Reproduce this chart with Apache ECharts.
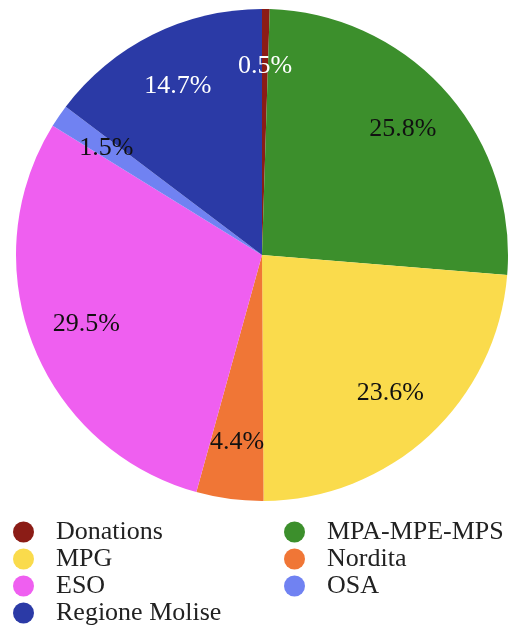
<!DOCTYPE html>
<html lang="en">
<head>
    <meta charset="UTF-8">
    <title>Funding</title>
    <script src="https://cdn.jsdelivr.net/npm/echarts@6/dist/echarts.min.js"></script>
    <style>
        html, body { margin: 0; padding: 0; background: #fff; }
    </style>
</head>
<body>
    <div id="main" style="width: 511px;height:629px;"></div>
    <script>
        // slices, clockwise from 12 o'clock
        var names = ['Donations', 'MPA-MPE-MPS', 'MPG', 'Nordita', 'ESO', 'OSA', 'Regione Molise'];
        var shares = [0.5, 25.8, 23.6, 4.4, 29.5, 1.5, 14.7];
        var colors = ['#8b1c16', '#3c8f2c', '#fadb4c', '#f07636', '#ef5ff0', '#7082f2', '#2b3aa6'];
        var labelColors = ['#fff', '#111', '#111', '#111', '#111', '#111', '#fff'];
        var leftLegend = ['Donations', 'MPG', 'ESO', 'Regione Molise'];
        var rightLegend = ['MPA-MPE-MPS', 'Nordita', 'OSA'];

        var font = 'Liberation Serif';
        var cx = 262, cy = 255, r = 246;

        var pieData = names.map(function (n, i) {
            return { name: n, value: shares[i], itemStyle: { color: colors[i] } };
        });
        var labelData = names.map(function (n, i) {
            return {
                name: n, value: shares[i],
                label: { color: labelColors[i] }
            };
        });

        function legend(list, left) {
            return {
                data: list,
                orient: 'vertical',
                left: left,
                top: 519,
                height: 200,
                padding: 0,
                icon: 'circle',
                itemWidth: 21,
                itemHeight: 21,
                itemGap: 1,
                selectedMode: false,
                textStyle: { fontFamily: font, fontSize: 26, lineHeight: 25, color: '#222', padding: [0, 0, 0, 17] }
            };
        }

        var myChart = echarts.init(document.getElementById('main'));
        myChart.setOption({
            animation: false,
            color: colors,
            legend: [legend(leftLegend, 13), legend(rightLegend, 284)],
            series: [{
                type: 'pie',
                center: [cx, cy],
                radius: [0, r],
                startAngle: 90,
                clockwise: true,
                silent: true,
                label: { show: false },
                labelLine: { show: false },
                data: pieData
            }, {
                // transparent ring only used to put labels at ~3/4 radius
                type: 'pie',
                center: [cx, cy],
                radius: [r * 0.51, r],
                startAngle: 90,
                clockwise: true,
                silent: true,
                itemStyle: { color: 'rgba(0,0,0,0)' },
                label: {
                    show: true,
                    position: 'inside',
                    fontFamily: font,
                    fontSize: 26,
                    formatter: function (p) { return p.value.toFixed(1) + '%'; }
                },
                labelLine: { show: false },
                data: labelData
            }]
        });
    </script>
</body>
</html>
